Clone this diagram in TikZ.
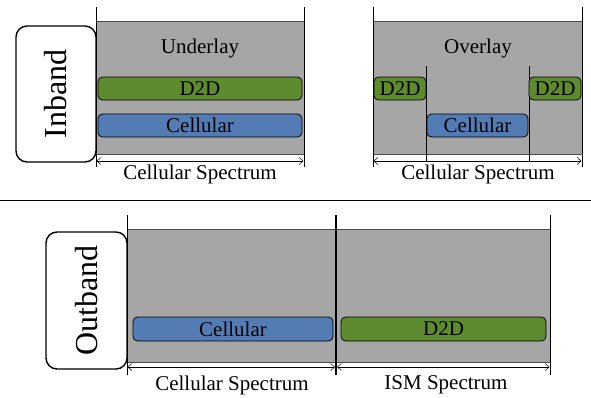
\documentclass[tikz,border=0pt]{standalone}
\usepackage{fontspec}
\setmainfont{Liberation Serif}
\usetikzlibrary{arrows.meta}
\definecolor{panelgray}{RGB}{166,166,166}
\definecolor{dgreen}{RGB}{94,139,46}
\definecolor{dblue}{RGB}{83,124,181}
\tikzset{
  panel/.style={draw=black!70, line width=0.6pt, fill=panelgray},
  bandbox/.style={draw=black, line width=1.4pt, rounded corners=11pt, fill=white, inner sep=0pt},
  bandtext/.style={font=\rmfamily\fontsize{32}{36}\selectfont, rotate=90, inner sep=0pt},
  bar/.style={draw=black, line width=0.8pt, rounded corners=4.5pt, inner sep=0pt, font=\rmfamily\fontsize{21}{24}\selectfont},
  greenbar/.style={bar, fill=dgreen},
  bluebar/.style={bar, fill=dblue},
  lbl/.style={font=\rmfamily\fontsize{21}{24}\selectfont, inner sep=0pt},
  edge/.style={line width=0.8pt, black},
  dim/.style={line width=0.5pt, {Straight Barb[length=4pt,width=7pt]}-{Straight Barb[length=4pt,width=7pt]}},
}
\begin{document}
\begin{tikzpicture}[x=1pt,y=-1pt]
\useasboundingbox (0,0) rectangle (591,397);

% ---------- top left: underlay ----------
\node[bandbox, minimum width=80pt, minimum height=136pt] (inbox) at (56,94) {};
\node[bandtext] (intext) at (inbox.center) {Inband};
\node[panel, minimum width=208pt, minimum height=133pt, inner sep=0pt] (ulpanel) at (200,87.5) {};
\coordinate (ulT1) at (96,7);   \coordinate (ulB1) at (96,167);
\coordinate (ulT2) at (304,7);  \coordinate (ulB2) at (304,167);
\draw[edge] (ulT1) -- (ulB1);
\draw[edge] (ulT2) -- (ulB2);
\node[lbl] (ultitle) at (200,48) {Underlay};
\node[greenbar, minimum width=204pt, minimum height=23pt] (uld2d) at (200,88.5) {D2D};
\node[bluebar, minimum width=204pt, minimum height=23pt] (ulcell) at (200,125.5) {Cellular};
\coordinate (ulA1) at (96.5,161); \coordinate (ulA2) at (303.5,161);
\draw[dim] (ulA1) -- (ulA2);
\node[lbl] (ulspec) at (200,174) {Cellular Spectrum};

% ---------- top right: overlay ----------
\node[panel, minimum width=209pt, minimum height=133pt, inner sep=0pt] (olpanel) at (477.5,87.5) {};
\coordinate (olT1) at (373,7);   \coordinate (olB1) at (373,167);
\coordinate (olT2) at (582,7);   \coordinate (olB2) at (582,167);
\draw[edge] (olT1) -- (olB1);
\draw[edge] (olT2) -- (olB2);
\coordinate (olM1t) at (426,66); \coordinate (olM1b) at (426,162);
\coordinate (olM2t) at (529,66); \coordinate (olM2b) at (529,162);
\draw[edge] (olM1t) -- (olM1b);
\draw[edge] (olM2t) -- (olM2b);
\node[lbl] (oltitle) at (478,48) {Overlay};
\node[greenbar, minimum width=52pt, minimum height=23pt] (old2da) at (400,88.5) {D2D};
\node[greenbar, minimum width=52pt, minimum height=23pt] (old2db) at (555,88.5) {D2D};
\node[bluebar, minimum width=101pt, minimum height=23pt] (olcell) at (477.5,125.5) {Cellular};
\coordinate (olA1) at (373.5,161); \coordinate (olA2) at (581.5,161);
\draw[dim] (olA1) -- (olA2);
\node[lbl] (olspec) at (478,174) {Cellular Spectrum};

% ---------- separator ----------
\coordinate (sepL) at (0,200); \coordinate (sepR) at (591,200);
\draw[line width=1pt] (sepL) -- (sepR);

% ---------- bottom: outband ----------
\node[bandbox, minimum width=81pt, minimum height=137pt] (outbox) at (86.5,300.5) {};
\node[bandtext] (outtext) at (outbox.center) {Outband};
\node[panel, minimum width=423pt, minimum height=133pt, inner sep=0pt] (obpanel) at (338.5,295.5) {};
\coordinate (obT1) at (127,215); \coordinate (obB1) at (127,375);
\coordinate (obT2) at (336,215); \coordinate (obB2) at (336,375);
\coordinate (obT3) at (550,215); \coordinate (obB3) at (550,375);
\draw[edge] (obT1) -- (obB1);
\draw[edge, line width=1.2pt] (obT2) -- (obB2);
\draw[edge] (obT3) -- (obB3);
\node[bluebar, minimum width=200pt, minimum height=24pt] (obcell) at (233,329) {Cellular};
\node[greenbar, minimum width=205pt, minimum height=24pt] (obd2d) at (443.5,329) {D2D};
\coordinate (obA1) at (127.5,367); \coordinate (obA2) at (335,367);
\coordinate (obA3) at (337,367); \coordinate (obA4) at (549.5,367);
\draw[dim] (obA1) -- (obA2);
\draw[dim] (obA3) -- (obA4);
\node[lbl] (obspec1) at (232,385) {Cellular Spectrum};
\node[lbl] (obspec2) at (446,385) {ISM Spectrum};
\end{tikzpicture}
\end{document}
